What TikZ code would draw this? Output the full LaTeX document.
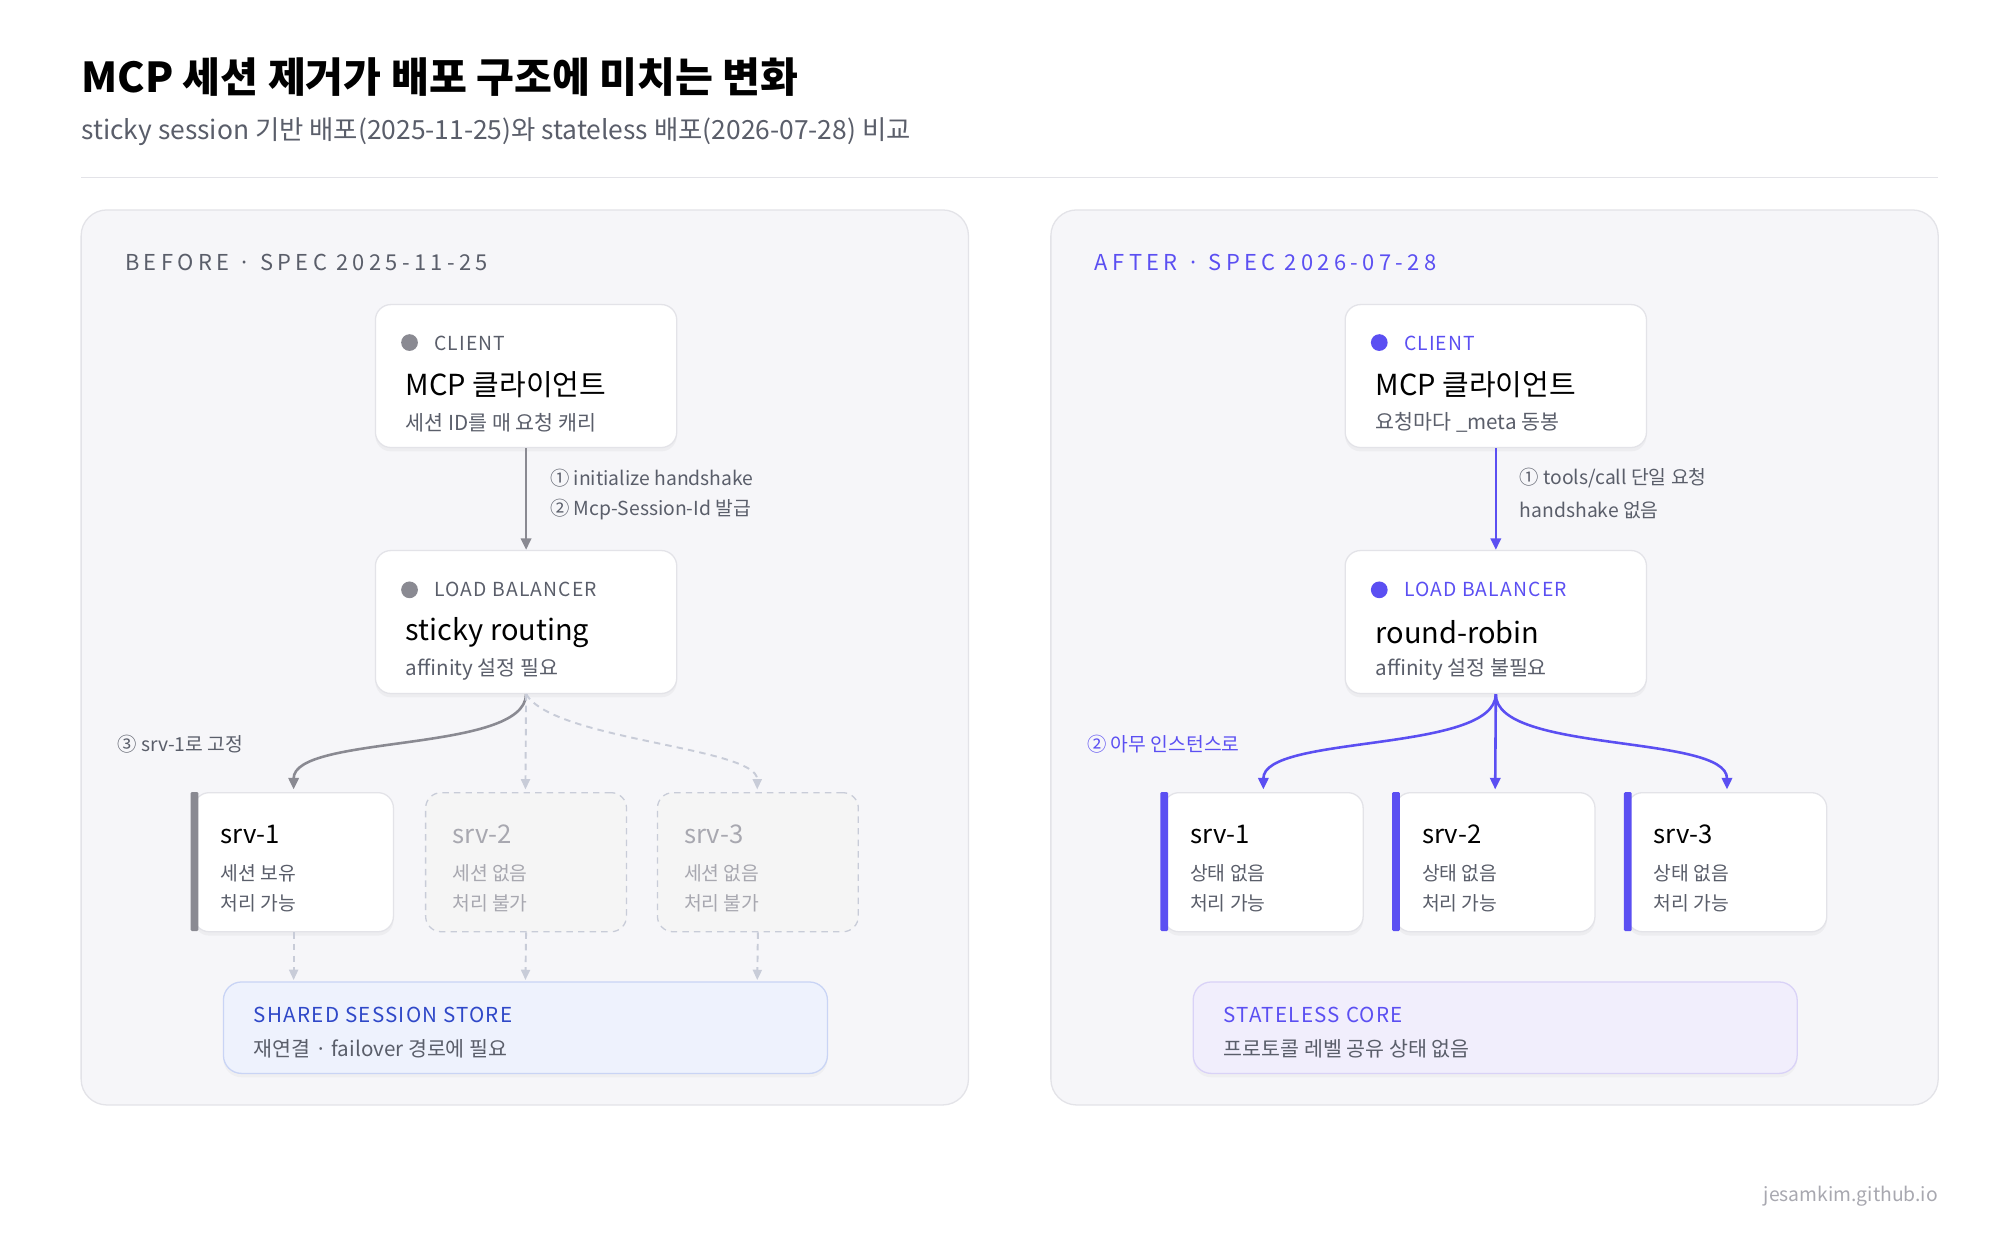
\documentclass[tikz,border=0pt]{standalone}
\usepackage{fontspec}
\setmainfont{Noto Sans CJK KR}
\usetikzlibrary{shadows,arrows.meta}
\definecolor{pbg}{HTML}{F6F6F9}
\definecolor{pbd}{HTML}{E3E3E8}
\definecolor{gtx}{HTML}{5A5E6A}
\definecolor{gdot}{HTML}{8A8A92}
\definecolor{purp}{HTML}{5B4FF2}
\definecolor{lgr}{HTML}{A8A8B0}
\definecolor{dsh}{HTML}{C8CCD8}
\definecolor{stfill}{HTML}{EEF2FD}
\definecolor{stbd}{HTML}{C9D4F5}
\definecolor{stblue}{HTML}{2F48C8}
\definecolor{cofill}{HTML}{F1EEFC}
\definecolor{cobd}{HTML}{D9D2F7}
\begin{document}
\begin{tikzpicture}[x=1pt,y=-1pt,
 box/.style={draw=pbd,fill=white,rounded corners=12pt,line width=1pt,drop shadow={opacity=0.07,shadow xshift=0pt,shadow yshift=-3pt}},
 gbox/.style={draw=dsh,fill=black!4,rounded corners=12pt,line width=1pt,dash pattern=on 5pt off 4pt},
 lbl/.style={anchor=west,inner sep=0pt},
 tag/.style={lbl,font=\fontsize{15}{15}\selectfont\addfontfeatures{LetterSpace=6}},
 head/.style={lbl,font=\fontsize{17}{17}\selectfont\addfontfeatures{LetterSpace=20}},
 big/.style={lbl,font=\fontsize{22.5}{22.5}\selectfont},
 srv/.style={lbl,font=\fontsize{20}{20}\selectfont},
 sub/.style={lbl,font=\fontsize{16}{16}\selectfont,text=gtx},
 sm/.style={lbl,font=\fontsize{15}{15}\selectfont,text=gtx},
 arr/.style={line width=2pt,-{Triangle[length=9pt,width=8pt]}},
 darr/.style={line width=1.5pt,dsh,dash pattern=on 5pt off 4pt,-{Triangle[length=8pt,width=7pt]}}]
\useasboundingbox (0,0) rectangle (1553,963);
\fill[white] (0,0) rectangle (1553,963);
\node[lbl,font=\fontsize{32}{32}\selectfont\bfseries] (title) at (63,60) {MCP 세션 제거가 배포 구조에 미치는 변화};
\node[lbl,font=\fontsize{20.5}{20.5}\selectfont,text=gtx] (subt) at (63,102) {sticky session 기반 배포(2025-11-25)와 stateless 배포(2026-07-28) 비교};
\draw[pbd,line width=1pt] (63,138) -- (1505,138);
\node[lbl,font=\fontsize{15}{15}\selectfont,text=lgr,anchor=east] (foot) at (1505,929) {jesamkim.github.io};
% ===== LEFT =====
\draw[pbd,fill=pbg,rounded corners=20pt,line width=1pt] (63,163) rectangle (752,858);
\node[head,text=gtx] (lh) at (97,204) {BEFORE · SPEC 2025-11-25};
\node[box,minimum width=234pt,minimum height=111pt,anchor=north west] (lc) at (291,236) {};
\fill[gdot] (318,266) circle (6.5pt);
\node[tag,text=gtx] at (337,267) {CLIENT};
\node[big] at (315,299) {MCP 클라이언트};
\node[sub] at (315,328) {세션 ID를 매 요청 캐리};
\node[box,minimum width=234pt,minimum height=111pt,anchor=north west] (llb) at (291,427) {};
\fill[gdot] (318,458) circle (6.5pt);
\node[tag,text=gtx] at (337,458) {LOAD BALANCER};
\node[big] at (315,491) {sticky routing};
\node[sub] at (315,520) {affinity 설정 필요};
\draw[arr,gdot] (lc.south) -- (llb.north);
\node[sm] at (427,371) {① initialize handshake};
\node[sm] at (427,396) {② Mcp-Session-Id 발급};
\node[box,minimum width=155pt,minimum height=108pt,anchor=north west] (ls1) at (150,615) {};
\fill[gdot,rounded corners=1pt] (148,615) rectangle (154,723);
\node[srv] at (171,648) {srv-1};
\node[sm] at (171,678) {세션 보유};
\node[sm] at (171,701) {처리 가능};
\node[gbox,minimum width=156pt,minimum height=108pt,anchor=north west] (ls2) at (330,615) {};
\node[srv,text=lgr] at (351,648) {srv-2};
\node[sm,text=lgr] at (351,678) {세션 없음};
\node[sm,text=lgr] at (351,701) {처리 불가};
\node[gbox,minimum width=156pt,minimum height=108pt,anchor=north west] (ls3) at (510,615) {};
\node[srv,text=lgr] at (531,648) {srv-3};
\node[sm,text=lgr] at (531,678) {세션 없음};
\node[sm,text=lgr] at (531,701) {처리 불가};
\draw[arr,gdot] (llb.south) .. controls (408,585) and (228,570) .. (228,613);
\draw[darr] (llb.south) -- (408,613);
\draw[darr] (llb.south) .. controls (430,575) and (588,580) .. (588,613);
\node[sm] at (91,578) {③ srv-1로 고정};
\node[draw=stbd,fill=stfill,rounded corners=14pt,line width=1pt,minimum width=469pt,minimum height=71pt,anchor=north west,drop shadow={opacity=0.06,shadow xshift=0pt,shadow yshift=-3pt}] (store) at (173,762) {};
\node[tag,text=stblue,font=\fontsize{16}{16}\selectfont\addfontfeatures{LetterSpace=6}] at (197,788) {SHARED SESSION STORE};
\node[sub] at (197,814) {재연결 · failover 경로에 필요};
\draw[darr] (ls1.south) -- (228,761);
\draw[darr] (ls2.south) -- (408,761);
\draw[darr] (ls3.south) -- (588,761);
% ===== RIGHT =====
\draw[pbd,fill=pbg,rounded corners=20pt,line width=1pt] (816,163) rectangle (1505,858);
\node[head,text=purp] (rh) at (850,204) {AFTER · SPEC 2026-07-28};
\node[box,minimum width=234pt,minimum height=111pt,anchor=north west] (rc) at (1044,236) {};
\fill[purp] (1071,266) circle (6.5pt);
\node[tag,text=purp] at (1090,267) {CLIENT};
\node[big] at (1068,299) {MCP 클라이언트};
\node[sub] at (1068,328) {요청마다 \_meta 동봉};
\node[box,minimum width=234pt,minimum height=111pt,anchor=north west] (rlb) at (1044,427) {};
\fill[purp] (1071,458) circle (6.5pt);
\node[tag,text=purp] at (1090,458) {LOAD BALANCER};
\node[big] at (1068,491) {round-robin};
\node[sub] at (1068,520) {affinity 설정 불필요};
\draw[arr,purp] (rc.south) -- (rlb.north);
\node[sm] at (1180,371) {① tools/call 단일 요청};
\node[sm] at (1180,396) {handshake 없음};
\node[box,minimum width=155pt,minimum height=108pt,anchor=north west] (rs1) at (903,615) {};
\fill[purp,rounded corners=1pt] (901,615) rectangle (907,723);
\node[srv] at (924,648) {srv-1};
\node[sm] at (924,678) {상태 없음};
\node[sm] at (924,701) {처리 가능};
\node[box,minimum width=155pt,minimum height=108pt,anchor=north west] (rs2) at (1083,615) {};
\fill[purp,rounded corners=1pt] (1081,615) rectangle (1087,723);
\node[srv] at (1104,648) {srv-2};
\node[sm] at (1104,678) {상태 없음};
\node[sm] at (1104,701) {처리 가능};
\node[box,minimum width=155pt,minimum height=108pt,anchor=north west] (rs3) at (1263,615) {};
\fill[purp,rounded corners=1pt] (1261,615) rectangle (1267,723);
\node[srv] at (1284,648) {srv-3};
\node[sm] at (1284,678) {상태 없음};
\node[sm] at (1284,701) {처리 가능};
\draw[arr,purp] (rlb.south) .. controls (1161,585) and (981,570) .. (981,613);
\draw[arr,purp] (rlb.south) -- (1161,613);
\draw[arr,purp] (rlb.south) .. controls (1161,585) and (1341,570) .. (1341,613);
\node[sm,text=purp] at (844,578) {② 아무 인스턴스로};
\node[draw=cobd,fill=cofill,rounded corners=14pt,line width=1pt,minimum width=469pt,minimum height=71pt,anchor=north west,drop shadow={opacity=0.06,shadow xshift=0pt,shadow yshift=-3pt}] (core) at (926,762) {};
\node[tag,text=purp,font=\fontsize{16}{16}\selectfont\addfontfeatures{LetterSpace=6}] at (950,788) {STATELESS CORE};
\node[sub] at (950,814) {프로토콜 레벨 공유 상태 없음};
\end{tikzpicture}
\end{document}
